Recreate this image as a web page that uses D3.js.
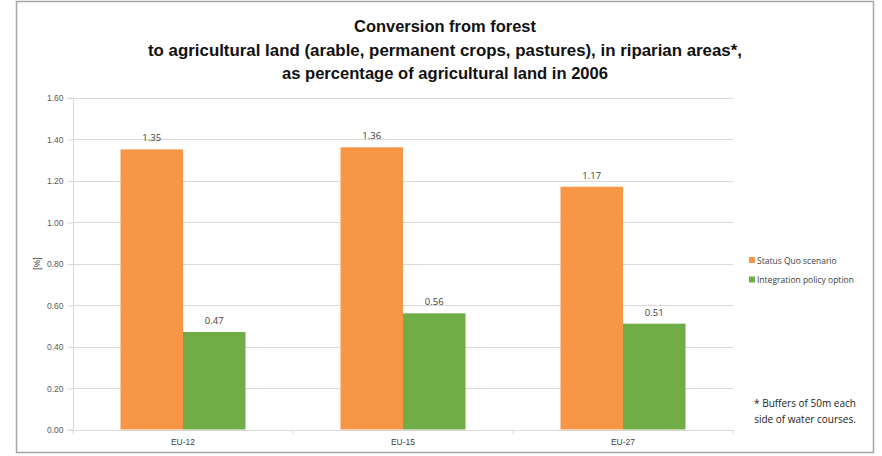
<!DOCTYPE html>
<html>
<head>
<meta charset="utf-8">
<script src="https://cdn.jsdelivr.net/npm/d3@7"></script>
<style>
  html, body { margin: 0; padding: 0; background: #fff; }
  svg { display: block; font-family: "Open Sans", "Liberation Sans", sans-serif; }
</style>
</head>
<body>
<svg id="chart" width="882" height="456"></svg>
<script>
// Regions and scenario values (% of agricultural land in 2006)
const categories = ["EU-12", "EU-15", "EU-27"];
const seriesNames = ["Status Quo scenario", "Integration policy option"];
const statusQuo = [1.35, 1.36, 1.17];
const integration = [0.47, 0.56, 0.51];
const yTicks = [0, 0.2, 0.4, 0.6, 0.8, 1.0, 1.2, 1.4, 1.6];
const titleLines = [
  "Conversion from forest",
  "to agricultural land (arable, permanent crops, pastures), in riparian areas*,",
  "as percentage of agricultural land in 2006"
];
const footnote = ["* Buffers of 50m each", "side of water courses."];
const colors = ["#F79646", "#70AD47"];

const svg = d3.select("#chart");

// outer frame
svg.append("rect")
  .attr("x", 16.5).attr("y", 1.5).attr("width", 857).attr("height", 451)
  .attr("fill", "#fff").attr("stroke", "#a6a6a6").attr("stroke-width", 1.5);

// title, each line fitted to a set width
const titleWidths = [182, 594, 326];
titleLines.forEach((t, i) => {
  const txt = svg.append("text")
    .attr("x", 445).attr("y", 32 + i * 23.5)
    .attr("text-anchor", "middle")
    .attr("font-family", "'Liberation Sans', sans-serif")
    .attr("font-weight", "bold").attr("font-size", 17)
    .attr("fill", "#111")
    .text(t);
  txt.attr("textLength", titleWidths[i]).attr("lengthAdjust", "spacingAndGlyphs");
});

const plot = { left: 73, right: 733, top: 97.5, bottom: 429.5 };

const x0 = d3.scaleBand().domain(categories).range([plot.left, plot.right]).paddingInner(0).paddingOuter(0);
const x1 = d3.scaleBand().domain(seriesNames).range([0, 125]);
const y = d3.scaleLinear().domain([0, 1.6]).range([plot.bottom, plot.top]);

// gridlines
svg.append("g").selectAll("line").data(yTicks.slice(1)).join("line")
  .attr("x1", plot.left).attr("x2", plot.right)
  .attr("y1", d => Math.round(y(d)) + 0.5).attr("y2", d => Math.round(y(d)) + 0.5)
  .attr("stroke", "#d9d9d9").attr("stroke-width", 1);

// y axis
const yAxis = d3.axisLeft(y).tickValues(yTicks).tickFormat(d3.format(".2f")).tickSize(6).tickPadding(4);
const gy = svg.append("g").attr("transform", `translate(${plot.left + 0.5},0.5)`).call(yAxis);
gy.select(".domain").attr("stroke", "#d9d9d9").attr("d", `M-6,${plot.top}H0V${plot.bottom}H-6`);
gy.selectAll(".tick line").attr("stroke", "#d9d9d9");
gy.selectAll(".tick text").attr("fill", "#595959").attr("font-size", 8.5)
  .attr("font-family", "'Liberation Sans', sans-serif");

// y axis title
svg.append("text")
  .attr("transform", `translate(40,${y(0.8)}) rotate(-90)`)
  .attr("text-anchor", "middle").attr("font-size", 8.5).attr("fill", "#404040")
  .attr("font-family", "'Liberation Sans', sans-serif")
  .text("[%]");

// bars
const data = categories.map((c, i) => ({ cat: c, vals: [statusQuo[i], integration[i]] }));
const groups = svg.append("g").selectAll("g").data(data).join("g")
  .attr("transform", d => `translate(${x0(d.cat) + (x0.bandwidth() - 125) / 2},0)`);

groups.selectAll("rect").data(d => d.vals.map((v, j) => ({ v, s: seriesNames[j], j }))).join("rect")
  .attr("x", d => x1(d.s)).attr("width", x1.bandwidth())
  .attr("y", d => y(d.v)).attr("height", d => y(0) - y(d.v))
  .attr("fill", d => colors[d.j]);

groups.selectAll("text").data(d => d.vals.map((v, j) => ({ v, s: seriesNames[j] }))).join("text")
  .attr("x", d => x1(d.s) + x1.bandwidth() / 2)
  .attr("y", d => y(d.v) - 8)
  .attr("text-anchor", "middle").attr("font-size", 9.5).attr("fill", "#404040")
  .text(d => d3.format(".2f")(d.v));

// x axis
const xAxis = d3.axisBottom(x0).tickSize(0).tickPadding(9);
const gx = svg.append("g").attr("transform", `translate(0,${plot.bottom + 0.5})`).call(xAxis);
gx.select(".domain").attr("stroke", "#d9d9d9");
gx.selectAll(".tick text").attr("fill", "#404040").attr("font-size", 8.5);
// separators between categories
gx.append("g").selectAll("line").data(d3.range(categories.length + 1)).join("line")
  .attr("x1", i => plot.left + i * x0.step()).attr("x2", i => plot.left + i * x0.step())
  .attr("y1", 0).attr("y2", 4).attr("stroke", "#d9d9d9");

// legend
const legend = svg.append("g").attr("transform", "translate(749,257)");
seriesNames.forEach((s, i) => {
  const g = legend.append("g").attr("transform", `translate(0,${i * 19.5})`);
  g.append("rect").attr("width", 6).attr("height", 6).attr("fill", colors[i]);
  g.append("text").attr("x", 8).attr("y", 6.5).attr("font-size", 8.5).attr("fill", "#404040").text(s);
});

// footnote
footnote.forEach((t, i) => {
  svg.append("text")
    .attr("x", 805).attr("y", 407 + i * 15.5)
    .attr("text-anchor", "middle").attr("font-size", 10).attr("fill", "#1a1a1a")
    .text(t);
});
</script>
</body>
</html>
